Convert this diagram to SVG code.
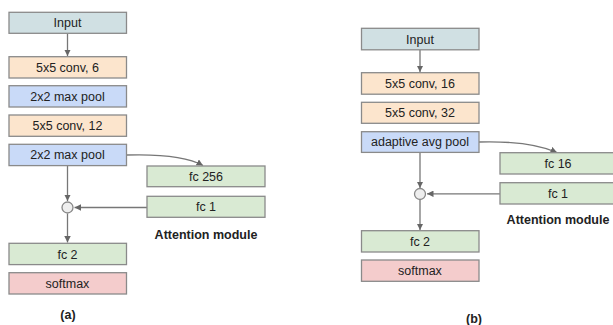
<svg xmlns="http://www.w3.org/2000/svg" width="613" height="325" viewBox="0 0 613 325">
<defs>
<marker id="ah" viewBox="0 0 10 10" refX="10" refY="5" markerWidth="5" markerHeight="5" orient="auto" markerUnits="strokeWidth">
<path d="M0,0 L10,5 L0,10 z" fill="#666"/>
</marker>
<style>
rect{stroke:#8a8a8a;stroke-width:1.3}
.in{fill:#d0e0e3}.cv{fill:#fce5cd}.pl{fill:#c9daf8}.fc{fill:#d9ead3}.sm{fill:#f4cccc}
text{font-family:"Liberation Sans",Arial,sans-serif;font-size:12.5px;fill:#222;text-anchor:middle}
.b{font-weight:bold;font-size:12.5px}
.c{fill:none;stroke:#777;stroke-width:1.3}
circle{fill:#eeeeee;stroke:#888;stroke-width:1.3}
</style>
</defs>
<rect width="613" height="325" fill="#ffffff" style="stroke:none"/>
<g id="connectors">
<path class="c" d="M67.5,33.5 V56" marker-end="url(#ah)"/>
<path class="c" d="M67.5,165.5 V201" marker-end="url(#ah)"/>
<path class="c" d="M147,207.5 H74.5" marker-end="url(#ah)"/>
<path class="c" d="M67.5,213.5 V242.5" marker-end="url(#ah)"/>
<path class="c" d="M126.5,155 C160,154 188,157 203,165.5" marker-end="url(#ah)"/>
<path class="c" d="M420,50 V72" marker-end="url(#ah)"/>
<path class="c" d="M420,152.3 V188" marker-end="url(#ah)"/>
<path class="c" d="M500,193.8 H427" marker-end="url(#ah)"/>
<path class="c" d="M420,200 V230" marker-end="url(#ah)"/>
<path class="c" d="M479,142 C515,141 540,145 557,152.5" marker-end="url(#ah)"/>
</g>
<g id="a-input"><rect class="in" x="9" y="12.3" width="117.5" height="21"/><text x="67.5" y="27.2">Input</text></g>
<g id="a-conv6"><rect class="cv" x="9" y="56.7" width="117.5" height="21.3"/><text x="67.5" y="71.7">5x5 conv, 6</text></g>
<g id="a-pool1"><rect class="pl" x="9" y="85.7" width="117.5" height="21.3"/><text x="67.5" y="100.7">2x2 max pool</text></g>
<g id="a-conv12"><rect class="cv" x="9" y="115" width="117.5" height="21.3"/><text x="67.5" y="130.2">5x5 conv, 12</text></g>
<g id="a-pool2"><rect class="pl" x="9" y="144.3" width="117.5" height="21.3"/><text x="67.5" y="159.2">2x2 max pool</text></g>
<g id="a-fc256"><rect class="fc" x="147" y="166" width="118" height="20.7"/><text x="206" y="180.7">fc 256</text></g>
<g id="a-fc1"><rect class="fc" x="147" y="196.3" width="118" height="21"/><text x="206" y="211.2">fc 1</text></g>
<g id="a-mul"><circle cx="67.5" cy="207.5" r="5.5"/></g>
<g id="a-att"><text class="b" x="206" y="238.7">Attention module</text></g>
<g id="a-fc2"><rect class="fc" x="9" y="243.3" width="117.5" height="21.3"/><text x="67.5" y="258.7">fc 2</text></g>
<g id="a-softmax"><rect class="sm" x="9" y="272.7" width="117.5" height="21.3"/><text x="67.5" y="287.7">softmax</text></g>
<g id="a-label"><text class="b" x="68" y="318.5">(a)</text></g>
<g id="b-input"><rect class="in" x="361.5" y="28.3" width="117.5" height="21.5"/><text x="420" y="43.7">Input</text></g>
<g id="b-conv16"><rect class="cv" x="361.5" y="72.7" width="117.5" height="21.5"/><text x="420" y="88.2">5x5 conv, 16</text></g>
<g id="b-conv32"><rect class="cv" x="361.5" y="102.3" width="117.5" height="21"/><text x="420" y="117.2">5x5 conv, 32</text></g>
<g id="b-pool"><rect class="pl" x="361.5" y="131.7" width="117.5" height="20.7"/><text x="420" y="146.2">adaptive avg pool</text></g>
<g id="b-fc16"><rect class="fc" x="500" y="152.7" width="118" height="21.3"/><text x="558" y="167.7">fc 16</text></g>
<g id="b-fc1"><rect class="fc" x="500" y="182.7" width="118" height="21.3"/><text x="558" y="197.7">fc 1</text></g>
<g id="b-mul"><circle cx="420" cy="194" r="5.5"/></g>
<g id="b-att"><text class="b" x="558" y="223.7">Attention module</text></g>
<g id="b-fc2"><rect class="fc" x="361.5" y="230.7" width="117.5" height="21.3"/><text x="420" y="245.7">fc 2</text></g>
<g id="b-softmax"><rect class="sm" x="361.5" y="260" width="117.5" height="21.3"/><text x="420" y="275.2">softmax</text></g>
<g id="b-label"><text class="b" x="474" y="322.5">(b)</text></g>
</svg>
